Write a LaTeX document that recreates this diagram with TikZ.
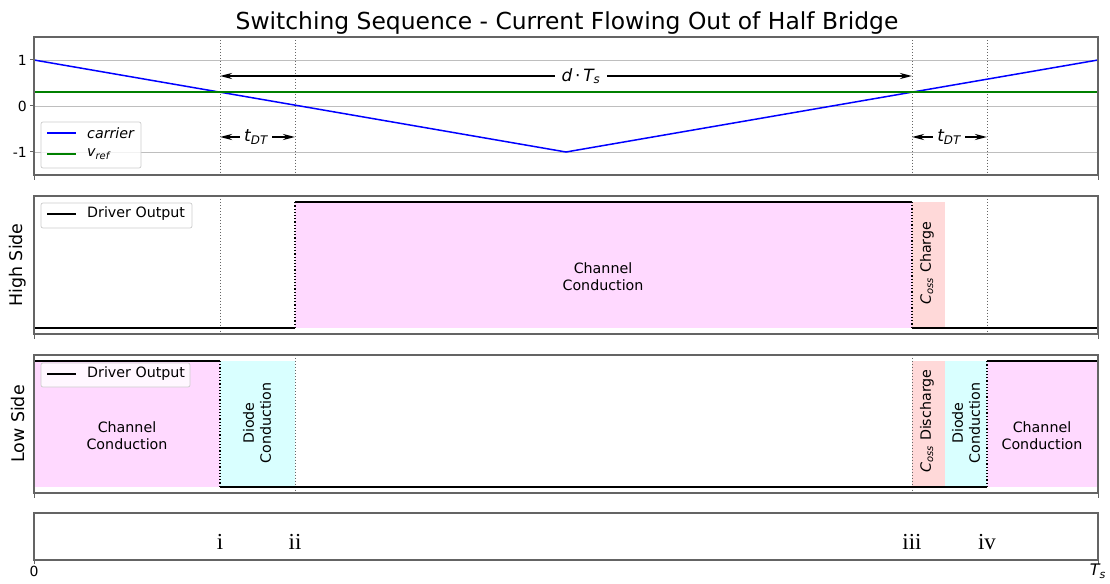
\documentclass[tikz,border=0pt]{standalone}
\usepackage{fontspec}
\setmainfont{DejaVu Sans}
\newfontfamily\serifnum{Liberation Serif}
\usetikzlibrary{arrows.meta}
\definecolor{pinkf}{RGB}{255,217,255}
\definecolor{redf}{RGB}{255,217,217}
\definecolor{cyanf}{RGB}{217,255,255}
\definecolor{spine}{RGB}{100,100,100}
\definecolor{gridc}{RGB}{190,190,190}
\definecolor{mgreen}{RGB}{0,128,0}
\newcommand\msub[1]{\textsubscript{\itshape #1}}
\tikzset{
  axesbox/.style={draw=spine, line width=1.1bp},
  gridline/.style={draw=gridc, line width=0.8bp},
  vdot/.style={draw=black!60, dotted, line width=1bp},
  edgedot/.style={draw=black, dotted, line width=1.2bp},
  driver/.style={draw=black, line width=1.5bp},
  legbox/.style={draw=black!20, fill=white, fill opacity=0.8, rounded corners=2bp, line width=0.7bp},
  ticklbl/.style={font=\fontsize{14}{16}\selectfont, inner sep=0},
  lbl/.style={font=\fontsize{14.3}{17}\selectfont, align=center, inner sep=0},
  ylbl/.style={font=\fontsize{17.5}{20}\selectfont, rotate=90, inner sep=0},
  roman/.style={font=\serifnum\fontsize{23}{26}\selectfont, anchor=base, inner sep=0},
  dimarrow/.style={draw=black, line width=2bp, {Stealth[length=12bp,width=6bp]}-{Stealth[length=12bp,width=6bp]}},
  dimlbl/.style={fill=white, inner ysep=2bp, inner xsep=4bp, font=\fontsize{17}{19}\selectfont},
  tickm/.style={draw=spine, line width=1bp}
}
\begin{document}
\begin{tikzpicture}[x=1bp,y=-1bp]
\useasboundingbox (0,0) rectangle (1110,584);
% title
\node[anchor=base, inner sep=0, font=\fontsize{23.5}{28}\selectfont] (title) at (567,30) {Switching Sequence - Current Flowing Out of Half Bridge};

% ---------- panel 1 ----------
\draw[gridline] (34,60) -- (1098,60);
\draw[gridline] (34,106) -- (1098,106);
\draw[gridline] (34,152) -- (1098,152);
\foreach \x in {220,295,912,987} \draw[vdot] (\x,37) -- (\x,175);
\draw[draw=blue, line width=1.5bp] (34,60) -- (566,152) -- (1098,60);
\draw[draw=mgreen, line width=2.2bp] (34,92.2) -- (1098,92.2);
\coordinate (dA) at (220,76);
\coordinate (dB) at (912,76);
\draw[dimarrow] (dA) -- (dB);
\node[dimlbl, inner xsep=7bp] (dlbl) at (581,76) {\itshape d\,\upshape·\,\itshape T\msub{s}};
\coordinate (t1A) at (220,137);
\coordinate (t1B) at (295,137);
\draw[dimarrow] (t1A) -- (t1B);
\node[dimlbl] (t1lbl) at (256,137) {\itshape t\msub{DT}};
\coordinate (t2A) at (912,137);
\coordinate (t2B) at (987,137);
\draw[dimarrow] (t2A) -- (t2B);
\node[dimlbl] (t2lbl) at (949,137) {\itshape t\msub{DT}};
\draw[axesbox] (34,37) rectangle (1098,175);
% y ticks
\draw[tickm] (30,60) -- (34,60);
\draw[tickm] (30,106) -- (34,106);
\draw[tickm] (30,152) -- (34,152);
\node[ticklbl, anchor=east] (y1) at (27,60) {1};
\node[ticklbl, anchor=east] (y0) at (27,106) {0};
\node[ticklbl, anchor=east] (ym1) at (27,152) {-1};
\draw[tickm] (34,175) -- (34,180);
\draw[tickm] (1098,175) -- (1098,180);
% legend 1
\draw[legbox] (41,122) rectangle (141,168);
\draw[draw=blue, line width=1.5bp] (47,133) -- (76,133);
\draw[draw=mgreen, line width=2.2bp] (47,154) -- (76,154);
\node[lbl, anchor=west] (lgc) at (87,133) {\itshape carrier};
\node[lbl, anchor=west] (lgv) at (87,154) {\itshape v\msub{ref}};

% ---------- panel 2 ----------
\fill[pinkf] (295,202) rectangle (912,328);
\fill[redf] (912,202) rectangle (945,328);
\draw[vdot] (220,196) -- (220,334);
\draw[vdot] (987,196) -- (987,334);
\draw[driver] (34,328) -- (295,328);
\draw[driver] (295,202) -- (912,202);
\draw[driver] (912,328) -- (1098,328);
\draw[edgedot] (295,328) -- (295,202);
\draw[edgedot] (912,202) -- (912,328);
\node[lbl] (hcc) at (603,277) {Channel\\Conduction};
\node[lbl, rotate=90] (hcoss) at (927,263) {\itshape C\msub{oss}\upshape\ Charge};
\draw[axesbox] (34,196) rectangle (1098,334);
\draw[tickm] (34,334) -- (34,339);
\draw[tickm] (1098,334) -- (1098,339);
\draw[legbox] (41,203) rectangle (192,228);
\draw[driver] (47,214) -- (76,214);
\node[lbl, anchor=west] (lgh) at (87,214) {Driver Output};
\node[ylbl] (hs) at (18,265) {High Side};

% ---------- panel 3 ----------
\fill[pinkf] (34,361) rectangle (220,487);
\fill[cyanf] (220,361) rectangle (295,487);
\fill[redf] (912,361) rectangle (945,487);
\fill[cyanf] (945,361) rectangle (987,487);
\fill[pinkf] (987,361) rectangle (1098,487);
\draw[vdot] (295,355) -- (295,493);
\draw[vdot] (912,355) -- (912,493);
\draw[driver] (34,361) -- (220,361);
\draw[driver] (220,487) -- (987,487);
\draw[driver] (987,361) -- (1098,361);
\draw[edgedot] (220,361) -- (220,487);
\draw[edgedot] (987,487) -- (987,361);
\node[lbl] (lcc1) at (127,436) {Channel\\Conduction};
\node[lbl, rotate=90] (ldc1) at (257,423) {Diode\\Conduction};
\node[lbl, rotate=90] (lcoss) at (927,421) {\itshape C\msub{oss}\upshape\ Discharge};
\node[lbl, rotate=90] (ldc2) at (966,423) {Diode\\Conduction};
\node[lbl] (lcc2) at (1042,436) {Channel\\Conduction};
\draw[axesbox] (34,355) rectangle (1098,493);
\draw[tickm] (34,493) -- (34,498);
\draw[tickm] (1098,493) -- (1098,498);
\draw[legbox] (41,363) rectangle (190,387);
\draw[driver] (47,374) -- (76,374);
\node[lbl, anchor=west] (lgl) at (87,374) {Driver Output};
\node[ylbl] (ls) at (18,424) {Low Side};

% ---------- panel 4 ----------
\draw[axesbox] (34,513) rectangle (1098,560);
\node[roman] (ri) at (220,549) {i};
\node[roman] (rii) at (295,549) {ii};
\node[roman] (riii) at (912,549) {iii};
\node[roman] (riv) at (987,549) {iv};
\draw[tickm] (34,560) -- (34,564);
\draw[tickm] (1098,560) -- (1098,564);
\node[ticklbl, anchor=north] (x0) at (34,566) {0};
\node[ticklbl, anchor=north, font=\fontsize{16}{18}\selectfont] (xT) at (1098,564) {\itshape T\msub{s}};
\end{tikzpicture}
\end{document}
